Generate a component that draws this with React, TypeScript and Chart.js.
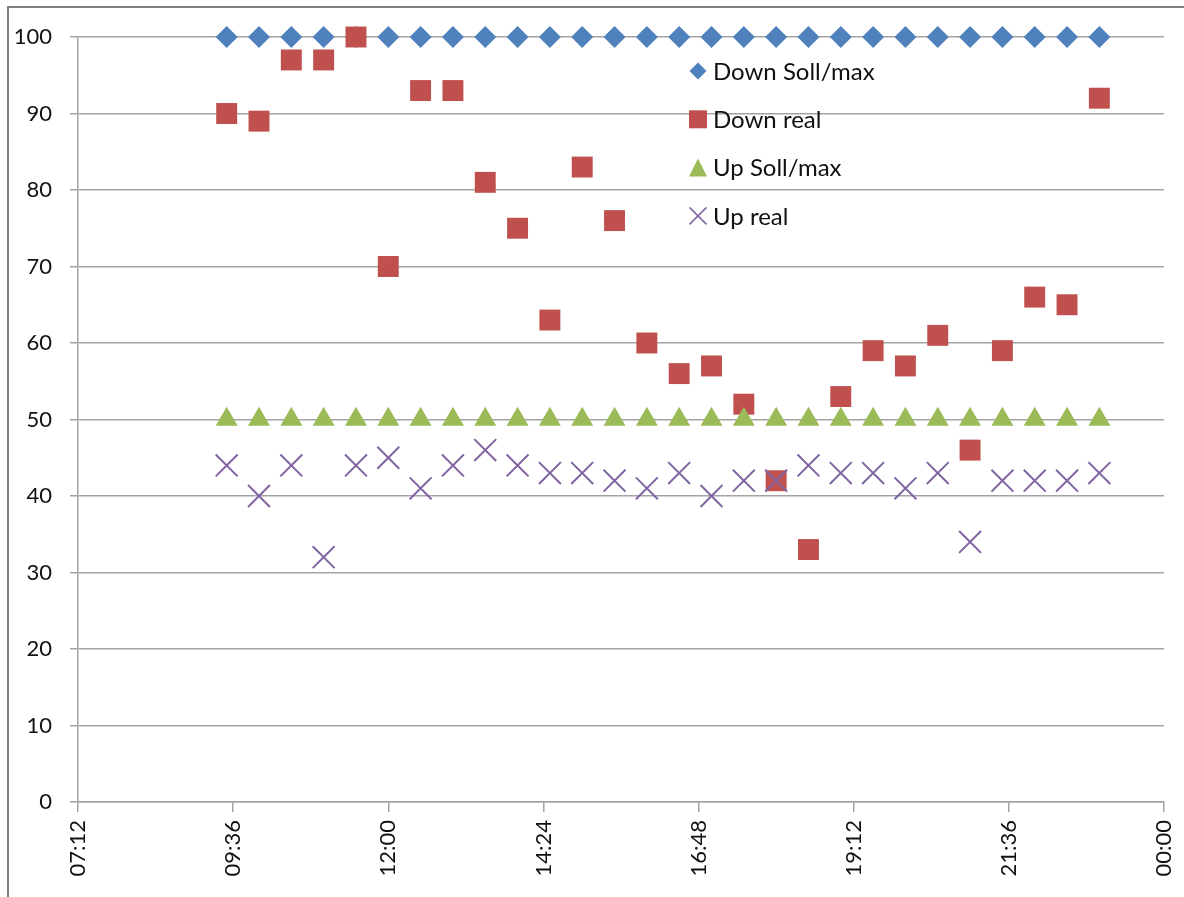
import React, { useEffect, useRef } from "react";
import { Chart, registerables } from "chart.js";

Chart.register(...registerables);

const times = [
  "09:30", "10:00", "10:30", "11:00", "11:30", "12:00", "12:30", "13:00", "13:30", "14:00",
  "14:30", "15:00", "15:30", "16:00", "16:30", "17:00", "17:30", "18:00", "18:30", "19:00",
  "19:30", "20:00", "20:30", "21:00", "21:30", "22:00", "22:30", "23:00",
];
const downSollMax = [100, 100, 100, 100, 100, 100, 100, 100, 100, 100, 100, 100, 100, 100, 100, 100, 100, 100, 100, 100, 100, 100, 100, 100, 100, 100, 100, 100];
const downReal = [90, 89, 97, 97, 100, 70, 93, 93, 81, 75, 63, 83, 76, 60, 56, 57, 52, 42, 33, 53, 59, 57, 61, 46, 59, 66, 65, 92];
const upSollMax = [50, 50, 50, 50, 50, 50, 50, 50, 50, 50, 50, 50, 50, 50, 50, 50, 50, 50, 50, 50, 50, 50, 50, 50, 50, 50, 50, 50];
const upReal = [44, 40, 44, 32, 44, 45, 41, 44, 46, 44, 43, 43, 42, 41, 43, 40, 42, 42, 44, 43, 43, 41, 43, 34, 42, 42, 42, 43];

const seriesNames = ["Down Soll/max", "Down real", "Up Soll/max", "Up real"];
const seriesColors = ["#4F81BD", "#C0504D", "#9BBB59", "#8064A2"];

const xMin = 0.3; // 07:12 as a fraction of a day
const xMax = 1.0; // 00:00
const xStep = 0.1; // 2:24

const toDay = (t: string) => {
  const [h, m] = t.split(":").map(Number);
  return (h * 60 + m) / 1440;
};
const fmtTime = (v: number) => {
  let mins = Math.round(v * 1440) % 1440;
  const h = Math.floor(mins / 60);
  const m = mins % 60;
  return String(h).padStart(2, "0") + ":" + String(m).padStart(2, "0");
};
const pts = (vals: number[]) => vals.map((y, i) => ({ x: toDay(times[i]), y }));

const FONT = "Lato";
const TEXT = "#111111";
const GRID = "#a3a3a3";

function drawMarker(ctx: CanvasRenderingContext2D, style: string, x: number, y: number, s: number, color: string) {
  ctx.save();
  ctx.fillStyle = color;
  ctx.strokeStyle = color;
  ctx.beginPath();
  if (style === "rectRot") {
    ctx.moveTo(x, y - s);
    ctx.lineTo(x + s, y);
    ctx.lineTo(x, y + s);
    ctx.lineTo(x - s, y);
    ctx.closePath();
    ctx.fill();
  } else if (style === "rect") {
    ctx.rect(x - s, y - s, 2 * s, 2 * s);
    ctx.fill();
  } else if (style === "triangle") {
    ctx.moveTo(x, y - s);
    ctx.lineTo(x + s, y + s);
    ctx.lineTo(x - s, y + s);
    ctx.closePath();
    ctx.fill();
  } else {
    ctx.lineWidth = 1.5;
    ctx.moveTo(x - s, y - s);
    ctx.lineTo(x + s, y + s);
    ctx.moveTo(x + s, y - s);
    ctx.lineTo(x - s, y + s);
    ctx.stroke();
  }
  ctx.restore();
}

const legendPlugin = {
  id: "insideLegend",
  afterDraw(chart: any) {
    const ctx = chart.ctx as CanvasRenderingContext2D;
    const styles = ["rectRot", "rect", "triangle", "crossRot"];
    const sizes = [8.5, 9, 9, 8.5];
    const x0 = 698;
    const y0 = 71;
    const dy = 48.3;
    ctx.save();
    ctx.font = `24px ${FONT}`;
    ctx.fillStyle = TEXT;
    ctx.textBaseline = "middle";
    ctx.textAlign = "left";
    seriesNames.forEach((name, i) => {
      const y = y0 + i * dy;
      drawMarker(ctx, styles[i], x0, y, sizes[i], seriesColors[i]);
      ctx.fillStyle = TEXT;
      ctx.fillText(name, 713, y + 1);
    });
    ctx.restore();
  },
};

export default function App() {
  const ref = useRef<HTMLCanvasElement>(null);
  useEffect(() => {
    if (!ref.current) return;
    const chart = new Chart(ref.current, {
      type: "scatter",
      data: {
        datasets: [
          {
            label: seriesNames[0],
            data: pts(downSollMax),
            pointStyle: "rectRot",
            pointRadius: 11,
            backgroundColor: seriesColors[0],
            borderColor: seriesColors[0],
            borderWidth: 0,
            clip: false,
            order: 4,
          },
          {
            label: seriesNames[1],
            data: pts(downReal),
            pointStyle: "rect",
            pointRadius: 14.8,
            backgroundColor: seriesColors[1],
            borderColor: seriesColors[1],
            borderWidth: 0,
            clip: false,
            order: 3,
          },
          {
            label: seriesNames[2],
            data: pts(upSollMax),
            pointStyle: "triangle",
            pointRadius: 12.7,
            backgroundColor: seriesColors[2],
            borderColor: seriesColors[2],
            borderWidth: 0,
            clip: false,
            order: 2,
          },
          {
            label: seriesNames[3],
            data: pts(upReal),
            pointStyle: "crossRot",
            pointRadius: 15.5,
            backgroundColor: seriesColors[3],
            borderColor: seriesColors[3],
            borderWidth: 2,
            clip: false,
            order: 1,
          },
        ],
      },
      options: {
        animation: false,
        responsive: false,
        maintainAspectRatio: false,
        layout: { padding: { top: 37, right: 20, left: 0, bottom: 0 } },
        plugins: {
          legend: { display: false },
          tooltip: { enabled: false },
        },
        scales: {
          x: {
            type: "linear",
            min: xMin,
            max: xMax,
            afterFit: (s: any) => {
              s.height = 897 - 802;
              s.paddingLeft = 0;
              s.paddingRight = 0;
            },
            afterBuildTicks: (s: any) => {
              const t = [];
              for (let i = 0; i <= Math.round((xMax - xMin) / xStep); i++) t.push({ value: xMin + i * xStep });
              s.ticks = t;
            },
            ticks: {
              minRotation: 90,
              maxRotation: 90,
              padding: 8,
              color: TEXT,
              font: { family: FONT, size: 22 },
              callback: (v: any) => fmtTime(Number(v)),
            },
            grid: {
              drawOnChartArea: false,
              drawTicks: true,
              tickLength: 10,
              color: GRID,
              lineWidth: 1.5,
            },
            border: { display: true, color: GRID, width: 1.5 },
          },
          y: {
            min: 0,
            max: 100,
            afterFit: (s: any) => {
              s.width = 78;
              s.paddingTop = 0;
              s.paddingBottom = 0;
            },
            ticks: {
              stepSize: 10,
              padding: 18,
              color: TEXT,
              font: { family: FONT, size: 22 },
            },
            grid: {
              color: GRID,
              lineWidth: 1.5,
              tickLength: 8,
            },
            border: { display: true, color: GRID, width: 1.5 },
          },
        },
      },
      plugins: [legendPlugin],
    });
    return () => chart.destroy();
  }, []);

  return (
    <div style={{ position: "fixed", left: 0, top: 0, width: 1184, height: 897, background: "#fff", overflow: "hidden" }}>
      <canvas ref={ref} width={1184} height={897} style={{ position: "absolute", left: 0, top: 0 }} />
      <div
        style={{
          position: "absolute",
          left: 7,
          top: 6,
          width: 1300,
          height: 1000,
          borderLeft: "2px solid #7f7f7f",
          borderTop: "2px solid #7f7f7f",
          pointerEvents: "none",
        }}
      />
    </div>
  );
}
